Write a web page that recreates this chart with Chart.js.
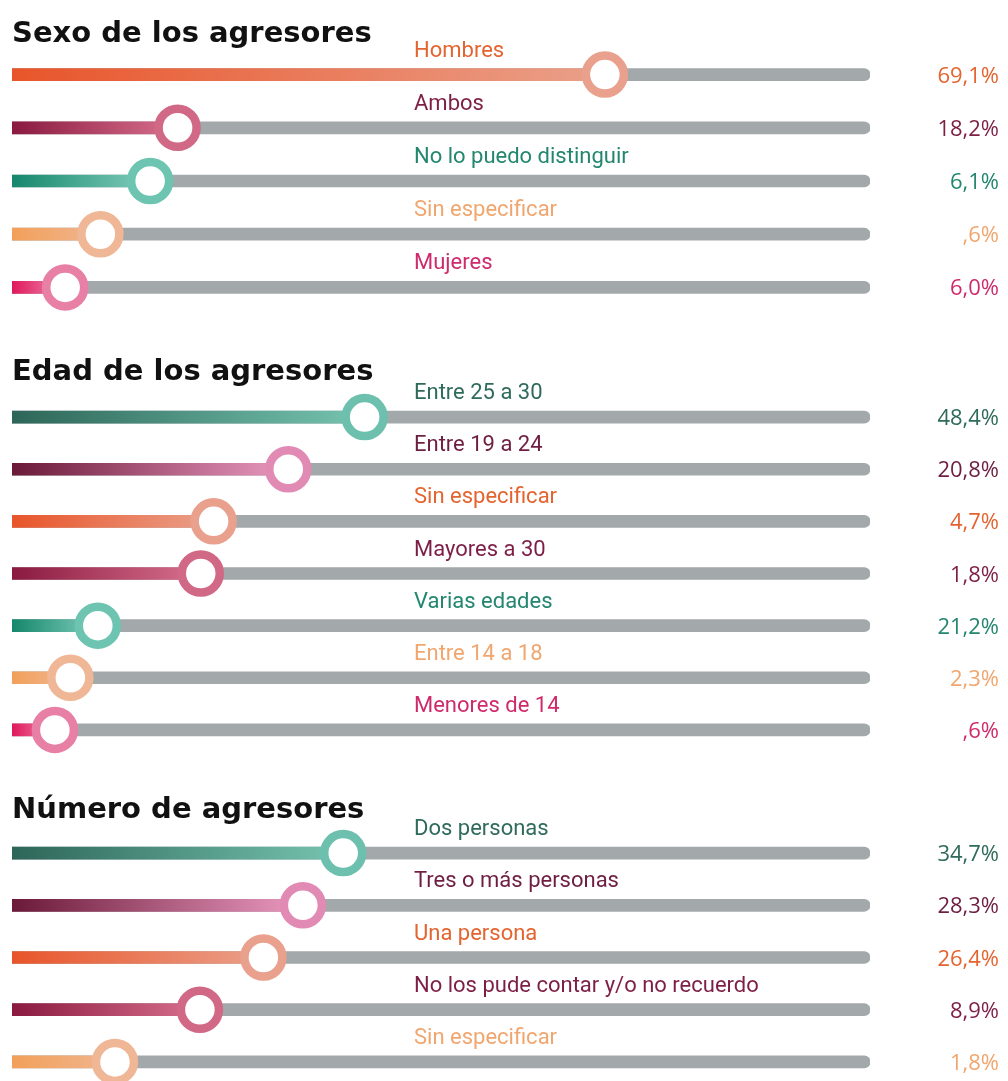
<!DOCTYPE html>
<html>
<head>
<meta charset="utf-8">
<script src="https://cdn.jsdelivr.net/npm/chart.js@4"></script>
<style>
  html, body { margin: 0; padding: 0; background: #fff; overflow: hidden; }
  body { width: 1008px; height: 1081px; position: relative; }
  .sec { position: absolute; left: 0; width: 1008px; }
</style>
</head>
<body>
<div class="sec" id="s0"><canvas id="c0"></canvas></div>
<div class="sec" id="s1"><canvas id="c1"></canvas></div>
<div class="sec" id="s2"><canvas id="c2"></canvas></div>
<script>
// ========== DATA ========== //
const sexoTitle = "Sexo de los agresores";
const sexoLabels = ["Hombres", "Ambos", "No lo puedo distinguir", "Sin especificar", "Mujeres"];
const sexoValues = [69.1, 18.2, 6.1, 0.6, 6.0];
const sexoMarkers = [69.1, 19.3, 16.1, 10.3, 6.2];   // slider position (% of track)

const edadTitle = "Edad de los agresores";
const edadLabels = ["Entre 25 a 30", "Entre 19 a 24", "Sin especificar", "Mayores a 30", "Varias edades", "Entre 14 a 18", "Menores de 14"];
const edadValues = [48.4, 20.8, 4.7, 1.8, 21.2, 2.3, 0.6];
const edadMarkers = [41.1, 32.2, 23.5, 22.0, 10.0, 6.8, 5.0];

const numTitle = "Número de agresores";
const numLabels = ["Dos personas", "Tres o más personas", "Una persona", "No los pude contar y/o no recuerdo", "Sin especificar"];
const numValues = [34.7, 28.3, 26.4, 8.9, 1.8];
const numMarkers = [38.6, 33.9, 29.3, 21.9, 12.0];

// ========== STYLE ========== //
const palette = {
  orange:      { from: "#e8552a", to: "#eaa08a", ring: "#e9a08c", text: "#e4642f" },
  maroon:      { from: "#8a1a40", to: "#d8708e", ring: "#d06886", text: "#7d1f45" },
  teal:        { from: "#15876c", to: "#80cdbb", ring: "#6dc4b1", text: "#23866f" },
  lightorange: { from: "#f2a05a", to: "#f0b690", ring: "#f0b797", text: "#f0a66e" },
  magenta:     { from: "#e0185a", to: "#ee8cb0", ring: "#e780a4", text: "#cf2a6c" },
  darkgreen:   { from: "#2d6658", to: "#76c4b0", ring: "#6dc0ad", text: "#2f6a5a" },
  plum:        { from: "#6a1938", to: "#ea9ac0", ring: "#e08ab4", text: "#6e1e40" }
};
const TRACK = "#a3a8aa";

const sections = [
  { title: sexoTitle, labels: sexoLabels, values: sexoValues, markers: sexoMarkers,
    colors: ["orange", "maroon", "teal", "lightorange", "magenta"],
    top: 0, height: 314, pad: 48, titleY: 42 },
  { title: edadTitle, labels: edadLabels, values: edadValues, markers: edadMarkers,
    colors: ["darkgreen", "plum", "orange", "maroon", "teal", "lightorange", "magenta"],
    top: 330, height: 426, pad: 61, titleY: 50 },
  { title: numTitle, labels: numLabels, values: numValues, markers: numMarkers,
    colors: ["darkgreen", "plum", "orange", "maroon", "lightorange"],
    top: 770, height: 318, pad: 57, titleY: 48 }
];

function fmt(v) {
  let s = v.toFixed(1).replace(".", ",");
  if (s.startsWith("0,")) s = s.slice(1);
  return s + "%";
}

// ========== TEXT PLUGIN ========== //
const textPlugin = {
  id: "sliderText",
  afterDatasetsDraw(chart, args, opts) {
    const sec = opts.sec;
    const ctx = chart.ctx;
    const y = chart.scales.y;
    ctx.save();
    ctx.fillStyle = "#111";
    ctx.font = "bold 29px 'DejaVu Sans'";
    ctx.textAlign = "left";
    ctx.textBaseline = "alphabetic";
    ctx.fillText(sec.title, 12, sec.titleY);

    sec.labels.forEach((lab, i) => {
      const c = palette[sec.colors[i]];
      const py = y.getPixelForValue(i);
      ctx.fillStyle = c.text;
      ctx.font = "22px Roboto";
      ctx.textAlign = "left";
      ctx.fillText(lab, 414, py - 18);
      ctx.font = "22px 'Open Sans'";
      ctx.textAlign = "right";
      ctx.fillText(fmt(sec.values[i]), 999, py + 8);
    });
    ctx.restore();
  }
};

// ========== CHARTS ========== //
sections.forEach((sec, k) => {
  const box = document.getElementById("s" + k);
  box.style.top = sec.top + "px";
  box.style.height = sec.height + "px";
  const cv = document.getElementById("c" + k);
  cv.width = 1008;
  cv.height = sec.height;
  cv.style.width = "1008px";
  cv.style.height = sec.height + "px";

  new Chart(cv, {
    data: {
      labels: sec.labels,
      datasets: [
        {
          type: "line",
          data: sec.markers,
          showLine: false,
          pointRadius: 19,
          pointHoverRadius: 19,
          pointBorderWidth: 8.5,
          pointHoverBorderWidth: 8.5,
          pointBackgroundColor: "#fff",
          pointBorderColor: sec.colors.map(n => palette[n].ring),
          clip: false,
          order: 0
        },
        {
          type: "bar",
          data: sec.markers,
          grouped: false,
          barThickness: 12,
          borderSkipped: "start",
          backgroundColor: (ctx) => {
            const chart = ctx.chart;
            if (!chart.chartArea || ctx.dataIndex === undefined) return "#ccc";
            const c = palette[sec.colors[ctx.dataIndex]];
            const x0 = chart.scales.x.getPixelForValue(0);
            const x1 = chart.scales.x.getPixelForValue(sec.markers[ctx.dataIndex]);
            const g = chart.ctx.createLinearGradient(x0, 0, x1, 0);
            g.addColorStop(0, c.from);
            g.addColorStop(1, c.to);
            return g;
          },
          order: 1
        },
        {
          type: "bar",
          data: sec.labels.map(() => 100),
          grouped: false,
          barThickness: 12,
          backgroundColor: TRACK,
          borderRadius: 6,
          borderSkipped: "start",
          order: 2
        }
      ]
    },
    options: {
      indexAxis: "y",
      responsive: false,
      animation: false,
      events: [],
      layout: { autoPadding: false, padding: { left: 12, right: 138, top: sec.pad, bottom: 0 } },
      scales: {
        x: { type: "linear", min: 0, max: 100, display: false },
        y: { type: "category", display: false, offset: true }
      },
      plugins: {
        legend: { display: false },
        tooltip: { enabled: false },
        sliderText: { sec: sec }
      }
    },
    plugins: [textPlugin]
  });
});
</script>
</body>
</html>
